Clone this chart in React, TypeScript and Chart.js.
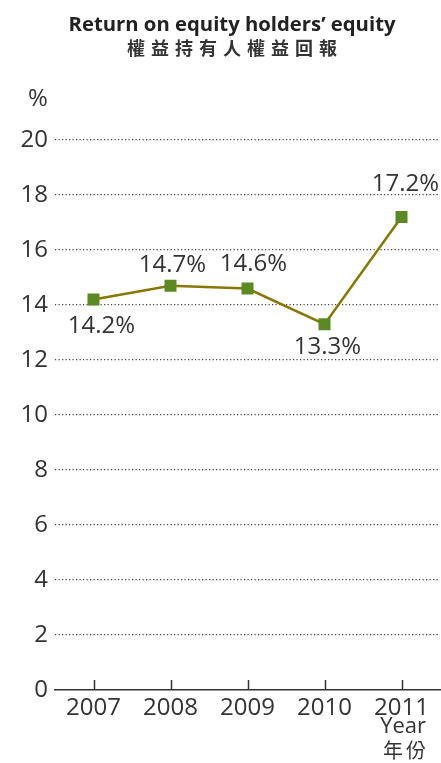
import React, { useEffect, useRef } from "react";
import { Chart, registerables } from "chart.js";

Chart.register(...registerables);

const years = ["2007", "2008", "2009", "2010", "2011"];
const roe = [14.2, 14.7, 14.6, 13.3, 17.2];
const valueLabels = ["14.2%", "14.7%", "14.6%", "13.3%", "17.2%"];
const yTicks = [0, 2, 4, 6, 8, 10, 12, 14, 16, 18, 20];
const titleEn = "Return on equity holders\u2019 equity";
const titleZh = "權益持有人權益回報";
const unitLabel = "%";
const xTitleEn = "Year";
const xTitleZh = "年份";

const labelDy = [27, -21, -24, 23, -33];
const labelDx = [8, 2, 6, 3, 4];

const TEXT = "#333333";
const FONT = "'Open Sans', 'Noto Sans', sans-serif";

const overlayPlugin = {
  id: "overlay",
  afterDraw(chart: any) {
    const ctx = chart.ctx as CanvasRenderingContext2D;
    const xs = chart.scales.x;
    const ys = chart.scales.y;
    const area = chart.chartArea;
    ctx.save();
    // upward ticks
    ctx.strokeStyle = TEXT;
    ctx.lineWidth = 1.5;
    years.forEach((_, i) => {
      const x = Math.round(xs.getPixelForValue(i)) + 0.5;
      ctx.beginPath();
      ctx.moveTo(x, area.bottom - 10);
      ctx.lineTo(x, area.bottom);
      ctx.stroke();
    });
    // value labels
    ctx.fillStyle = TEXT;
    ctx.font = `24px ${FONT}`;
    ctx.textAlign = "center";
    ctx.textBaseline = "middle";
    roe.forEach((v, i) => {
      const x = xs.getPixelForValue(i) + labelDx[i];
      const y = ys.getPixelForValue(v) + labelDy[i];
      ctx.fillText(valueLabels[i], x, y);
    });
    // titles
    ctx.font = `bold 20.3px ${FONT}`;
    ctx.fillStyle = "#222222";
    ctx.fillText(titleEn, 232, 25);
    ctx.font = `bold 18px 'Noto Sans CJK TC', sans-serif`;
    ctx.fillStyle = "#333333";
    (ctx as any).letterSpacing = "6px";
    ctx.fillText(titleZh, 232 + 3, 48);
    (ctx as any).letterSpacing = "0px";
    // unit
    ctx.fillStyle = TEXT;
    ctx.font = `24px ${FONT}`;
    ctx.fillText(unitLabel, 38, 99);
    // x title
    ctx.textAlign = "right";
    ctx.font = `22px ${FONT}`;
    ctx.fillText(xTitleEn, 426, 727);
    ctx.font = `20px 'Noto Sans CJK TC', sans-serif`;
    (ctx as any).letterSpacing = "3px";
    ctx.fillText(xTitleZh, 429, 750);
    (ctx as any).letterSpacing = "0px";
    ctx.restore();
  },
};

export default function App() {
  const ref = useRef<HTMLCanvasElement>(null);
  useEffect(() => {
    if (!ref.current) return;
    const chart = new Chart(ref.current, {
      type: "line",
      data: {
        labels: years,
        datasets: [
          {
            data: roe,
            borderColor: "#8a7600",
            borderWidth: 2.5,
            pointStyle: "rect",
            pointRadius: 8.5,
            pointBackgroundColor: "#5c8a22",
            pointBorderColor: "#5c8a22",
            pointBorderWidth: 0,
            tension: 0,
          },
        ],
      },
      options: {
        responsive: false,
        animation: false,
        devicePixelRatio: 1,
        layout: { autoPadding: false, padding: { top: 140, right: 1, left: 0, bottom: 0 } },
        plugins: { legend: { display: false }, tooltip: { enabled: false }, title: { display: false } },
        scales: {
          x: {
            type: "category",
            offset: true,
            grid: { display: false, drawTicks: false },
            border: { display: true, color: TEXT, width: 1.5 },
            ticks: { color: TEXT, font: { size: 24, family: FONT }, padding: 4, maxRotation: 0 },
            afterFit: (s: any) => {
              s.height = 73;
              s.paddingLeft = 0;
              s.paddingRight = 0;
            },
          },
          y: {
            min: 0,
            max: 20,
            afterBuildTicks: (s: any) => {
              s.ticks = yTicks.map((v) => ({ value: v }));
            },
            grid: {
              drawTicks: false,
              color: (c: any) => (c.tick && c.tick.value === 0 ? "rgba(0,0,0,0)" : "#444444"),
              lineWidth: 1.2,
            },
            border: { display: false, dash: [1.2, 2.3] },
            ticks: { color: TEXT, font: { size: 24, family: FONT }, padding: 7 },
            afterFit: (s: any) => {
              s.width = 55;
            },
          },
        },
      },
      plugins: [overlayPlugin],
    });
    return () => chart.destroy();
  }, []);
  return (
    <div style={{ position: "fixed", left: 0, top: 0, width: 441, height: 763, background: "#fff" }}>
      <canvas ref={ref} width={441} height={763} style={{ width: 441, height: 763 }} />
    </div>
  );
}
